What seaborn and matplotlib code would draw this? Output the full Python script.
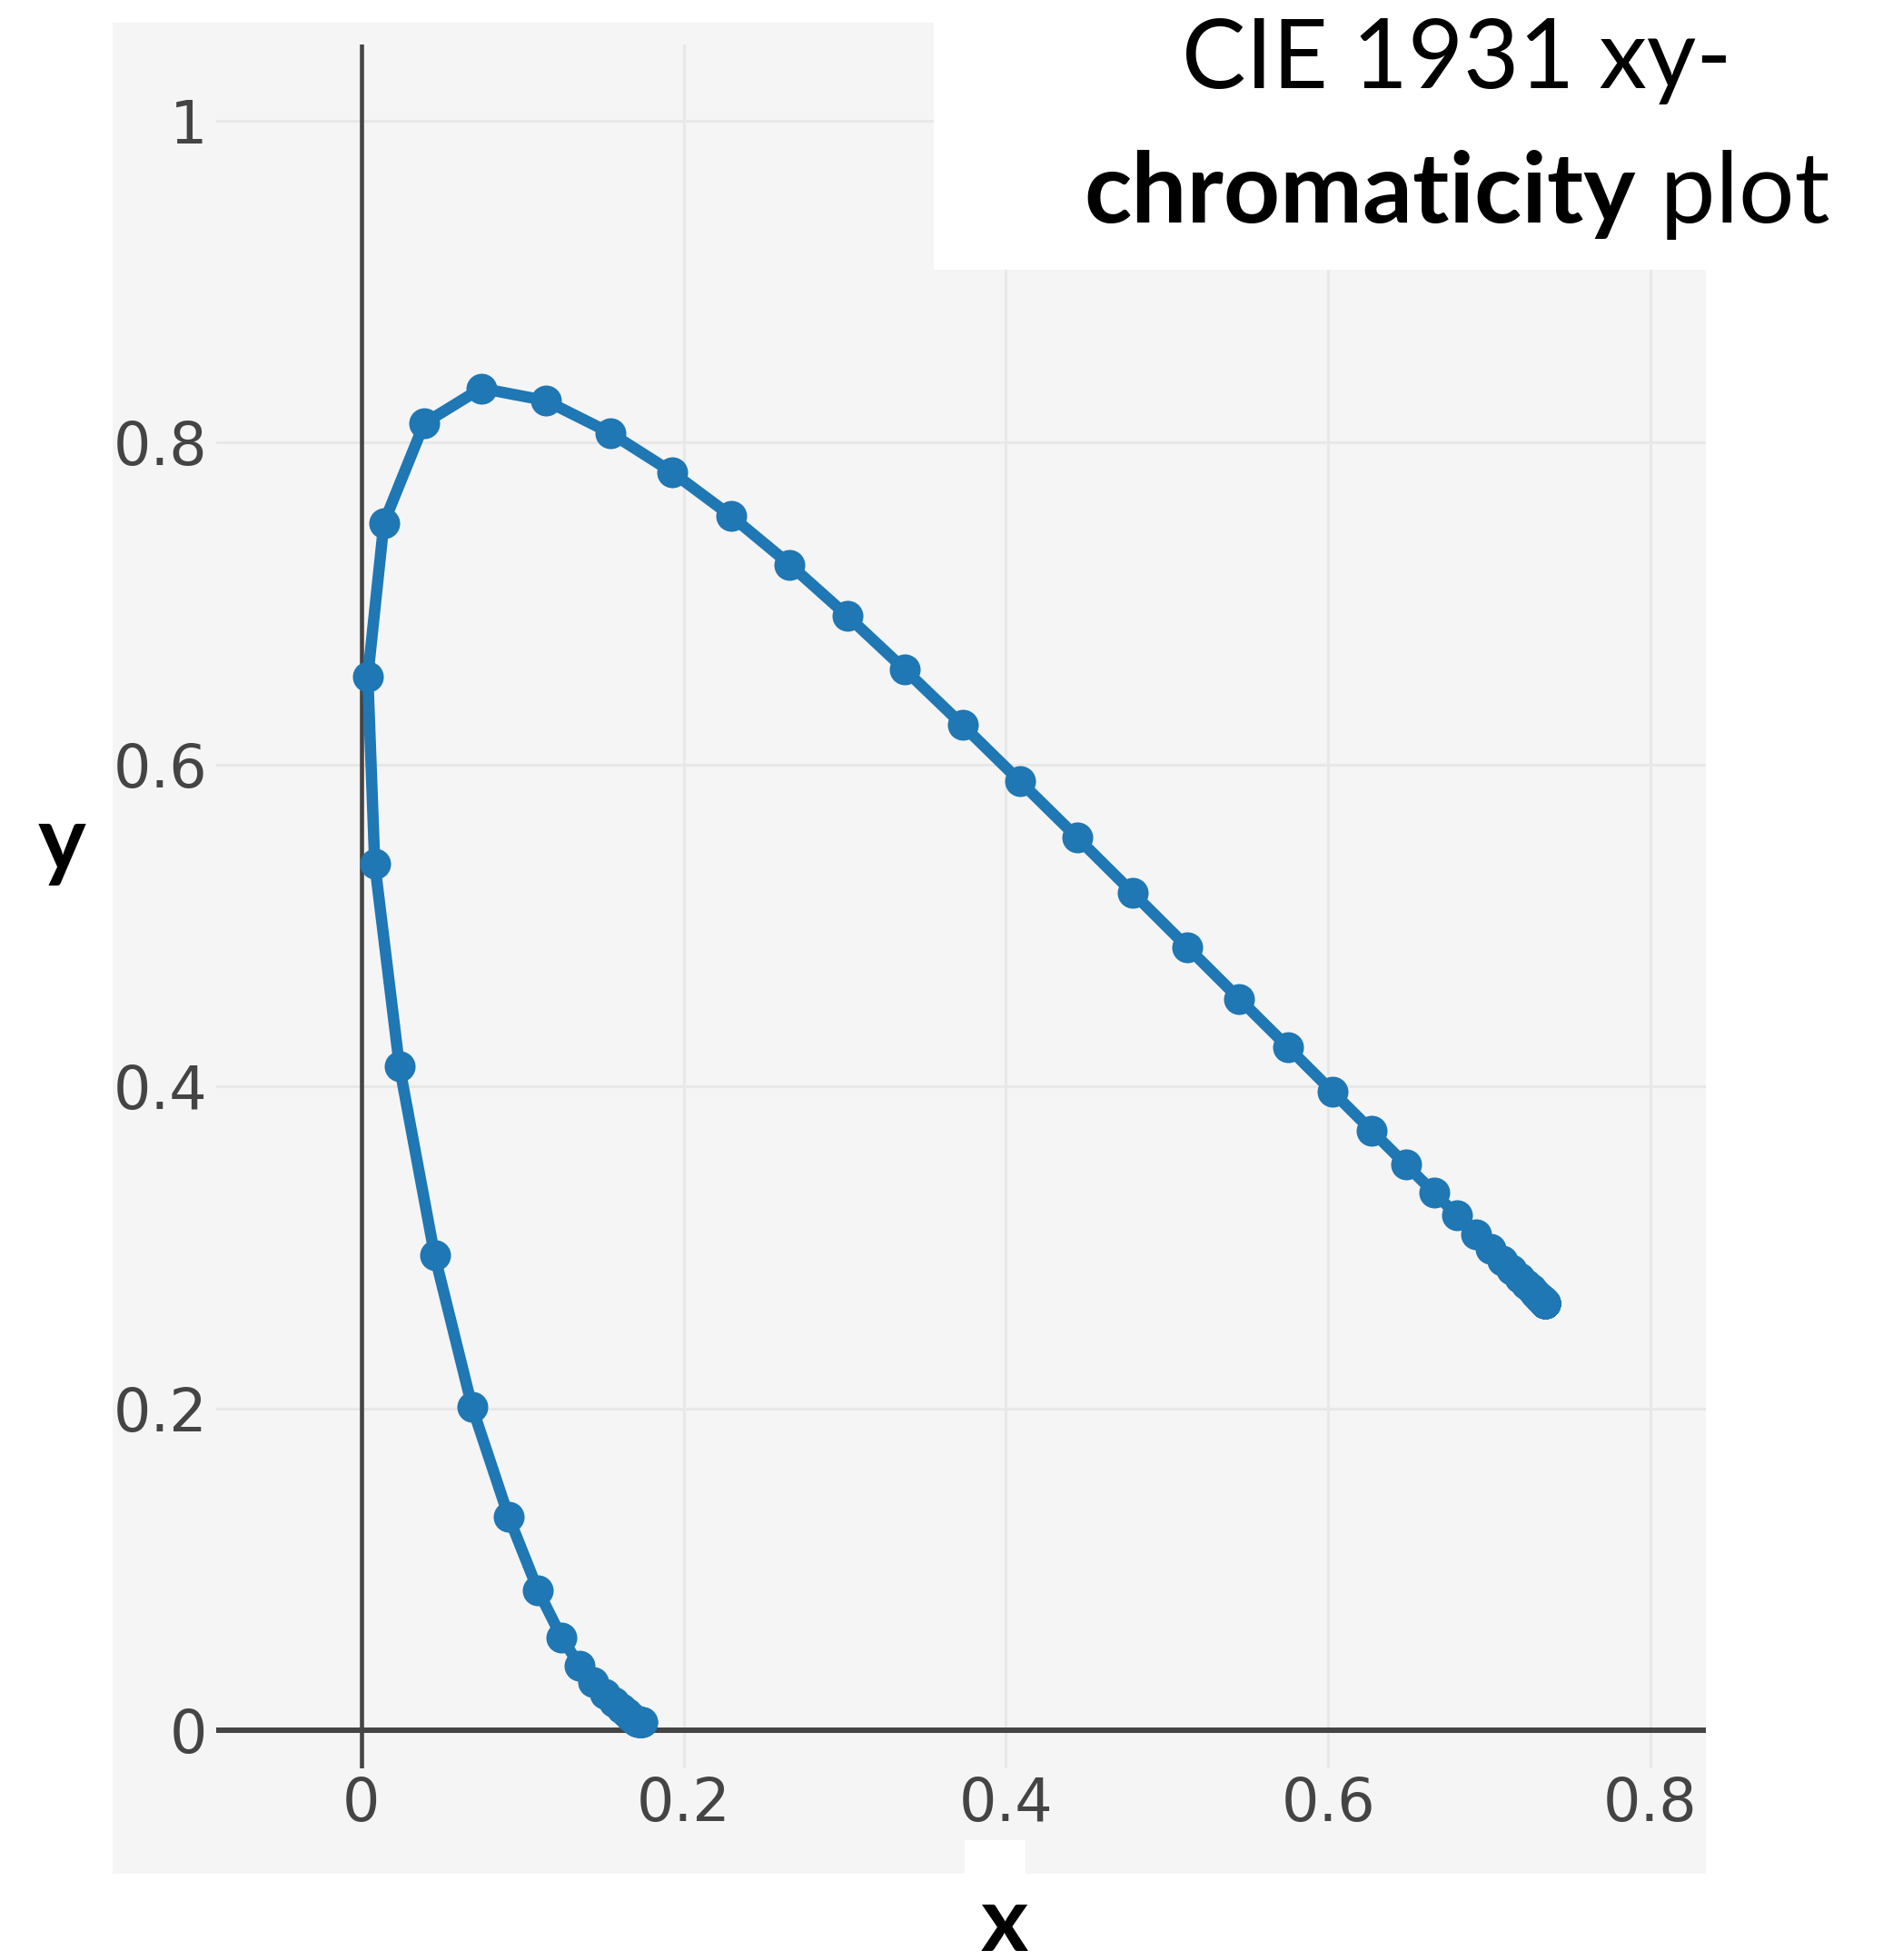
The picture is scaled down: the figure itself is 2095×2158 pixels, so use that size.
import matplotlib
matplotlib.use("Agg")
import matplotlib.pyplot as plt
import seaborn as sns
import pandas as pd
from matplotlib.patches import Rectangle

# ---- data: CIE 1931 spectral locus, 380-780 nm in 5 nm steps ----
wavelength = list(range(380, 785, 5))
x_vals = [0.1741, 0.1740, 0.1738, 0.1736, 0.1733, 0.1730, 0.1726, 0.1721, 0.1714, 0.1703,
          0.1689, 0.1669, 0.1644, 0.1611, 0.1566, 0.1510, 0.1440, 0.1355, 0.1241, 0.1096,
          0.0913, 0.0687, 0.0454, 0.0235, 0.0082, 0.0039, 0.0139, 0.0389, 0.0743, 0.1142,
          0.1547, 0.1929, 0.2296, 0.2658, 0.3016, 0.3373, 0.3731, 0.4087, 0.4441, 0.4788,
          0.5125, 0.5448, 0.5752, 0.6029, 0.6270, 0.6482, 0.6658, 0.6801, 0.6915, 0.7006,
          0.7079, 0.7140, 0.7190, 0.7230, 0.7260, 0.7283, 0.7300, 0.7311, 0.7320, 0.7327,
          0.7334, 0.7340, 0.7344, 0.7346, 0.7347, 0.7347, 0.7347, 0.7347, 0.7347, 0.7347,
          0.7347, 0.7347, 0.7347, 0.7347, 0.7347, 0.7347, 0.7347, 0.7347, 0.7347, 0.7347,
          0.7347]
y_vals = [0.0050, 0.0050, 0.0049, 0.0049, 0.0048, 0.0048, 0.0048, 0.0048, 0.0051, 0.0058,
          0.0069, 0.0086, 0.0109, 0.0138, 0.0177, 0.0227, 0.0297, 0.0399, 0.0578, 0.0868,
          0.1327, 0.2007, 0.2950, 0.4127, 0.5384, 0.6548, 0.7502, 0.8120, 0.8338, 0.8262,
          0.8059, 0.7816, 0.7543, 0.7243, 0.6923, 0.6589, 0.6245, 0.5896, 0.5547, 0.5202,
          0.4866, 0.4544, 0.4242, 0.3965, 0.3725, 0.3514, 0.3340, 0.3197, 0.3083, 0.2993,
          0.2920, 0.2859, 0.2809, 0.2770, 0.2740, 0.2717, 0.2700, 0.2689, 0.2680, 0.2673,
          0.2666, 0.2660, 0.2656, 0.2654, 0.2653, 0.2653, 0.2653, 0.2653, 0.2653, 0.2653,
          0.2653, 0.2653, 0.2653, 0.2653, 0.2653, 0.2653, 0.2653, 0.2653, 0.2653, 0.2653,
          0.2653]
x_ticks = [0, 0.2, 0.4, 0.6, 0.8]
x_tick_labels = ["0", "0.2", "0.4", "0.6", "0.8"]
y_ticks = [0, 0.2, 0.4, 0.6, 0.8, 1.0]
y_tick_labels = ["0", "0.2", "0.4", "0.6", "0.8", "1"]
title_line1 = "CIE 1931 xy-"
title_bold = "chromaticity"
title_rest = " plot"
x_label = "x"
y_label = "y"

df = pd.DataFrame({"wavelength": wavelength, "x": x_vals, "y": y_vals})

sns.set_theme(style="white")
plt.rcParams["font.family"] = ["DejaVu Sans"]

W, H = 2095, 2158
fig = plt.figure(figsize=(W / 100, H / 100), dpi=100, facecolor="white")

def fx(px):
    return px / W

def fy(py):
    return 1 - py / H

BG = "#f5f5f5"
# grey paper background
fig.patches.append(Rectangle((fx(124), fy(2063)), fx(1878) - fx(124), fy(25) - fy(2063),
                             transform=fig.transFigure, facecolor=BG, edgecolor="none", zorder=-10))

ax_l, ax_r, ax_t, ax_b = 238, 1878, 49, 1947
ax = fig.add_axes([fx(ax_l), fy(ax_b), fx(ax_r) - fx(ax_l), fy(ax_t) - fy(ax_b)])
ax.set_facecolor(BG)

sns.lineplot(data=df, x="x", y="y", sort=False, estimator=None, ax=ax,
             color="#1f77b4", linewidth=9, marker="o", markersize=24.5,
             markeredgewidth=0, zorder=3)

ax.set_xlim(-0.0902, 0.8344)
ax.set_ylim(-0.0237, 1.0474)
ax.set_xticks(x_ticks)
ax.set_xticklabels(x_tick_labels)
ax.set_yticks(y_ticks)
ax.set_yticklabels(y_tick_labels)
ax.tick_params(axis="both", length=0, labelsize=47, labelcolor="#444444")
ax.tick_params(axis="x", pad=6)
ax.tick_params(axis="y", pad=7)
for s in ax.spines.values():
    s.set_visible(False)
ax.grid(True, color="#e8e8e8", linewidth=2.2)
ax.set_axisbelow(True)
ax.axhline(0, color="#444444", linewidth=4.3, zorder=2)
ax.axvline(0, color="#444444", linewidth=3.3, zorder=2)
ax.set_xlabel("")
ax.set_ylabel("")

# white title box and small white box under the x axis
fig.patches.append(Rectangle((fx(1028), fy(297)), fx(1878) - fx(1028), fy(0) - fy(297),
                             transform=fig.transFigure, facecolor="white", edgecolor="none", zorder=5))
fig.patches.append(Rectangle((fx(1062), fy(2063)), fx(1129) - fx(1062), fy(2026) - fy(2063),
                             transform=fig.transFigure, facecolor="white", edgecolor="none", zorder=5))

TFONT = ["Lato", "DejaVu Sans"]
cx = 1604
fig.text(fx(cx), fy(97), title_line1, ha="center", va="baseline", family=TFONT,
         fontweight="normal", fontsize=76, color="black", zorder=6)
t_b = fig.text(0, fy(245), title_bold, ha="left", va="baseline", family=TFONT,
               fontweight="bold", fontsize=78, color="black", zorder=6)
t_r = fig.text(0, fy(245), title_rest, ha="left", va="baseline", family=TFONT,
               fontweight="normal", fontsize=78, color="black", zorder=6)
fig.canvas.draw()
r = fig.canvas.get_renderer()
wb = t_b.get_window_extent(r).width
wr = t_r.get_window_extent(r).width
start = cx - (wb + wr) / 2
t_b.set_x(fx(start))
t_r.set_x(fx(start + wb))

fig.text(fx(68), fy(958), y_label, ha="center", va="baseline", family=TFONT,
         fontweight="bold", fontsize=72, color="black")
fig.text(fx(1106), fy(2148), x_label, ha="center", va="baseline", family=TFONT,
         fontweight="bold", fontsize=72, color="black")

fig.savefig("out.png", dpi=100, facecolor="white")
